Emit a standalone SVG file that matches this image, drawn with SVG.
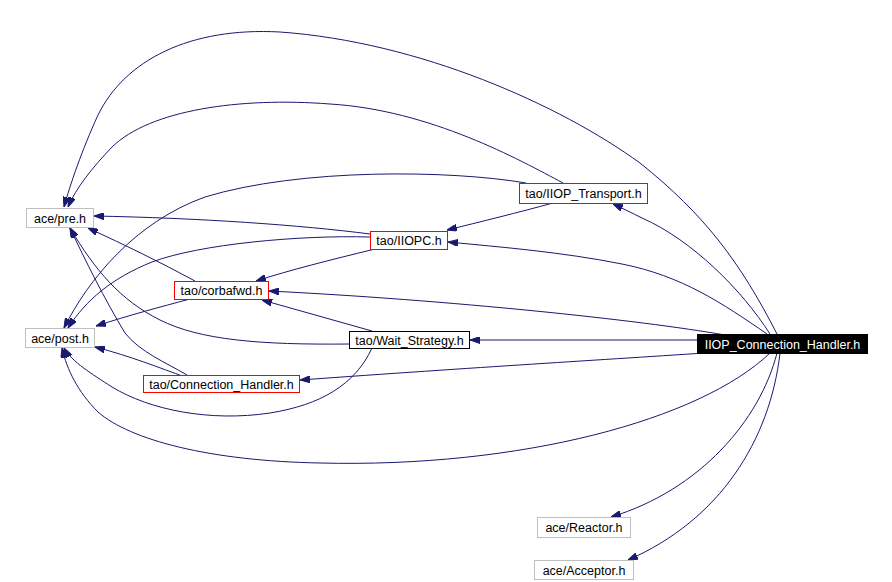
<svg xmlns="http://www.w3.org/2000/svg" width="892" height="582" viewBox="0 0 892 582">
<defs>
<style>
.e{fill:none;stroke:#191970;stroke-width:1;marker-end:url(#ah)}
.n rect{fill:#fff;stroke-width:1}
.g rect{stroke:#bfbfbf}
.r rect{stroke:#ff0000}
.b rect{stroke:#000}
.k rect{fill:#000;stroke:#000}
text{font-family:"Liberation Sans",Arial,sans-serif;font-size:12.5px;text-anchor:middle;fill:#000}
.k text{fill:#fff}
</style>
<marker id="ah" markerWidth="10" markerHeight="7" refX="10" refY="3.5" orient="auto" markerUnits="userSpaceOnUse">
<path d="M0,0 L10,3.5 L0,7 z" fill="#191970" stroke="#191970"/>
</marker>
</defs>
<rect x="0" y="0" width="892" height="582" fill="#fff"/>
<g id="connectors">
<path class="e" d="M777,334 C740,262 705,215 640,163 C560,105 420,42 280,32 C190,27 125,60 98,115 C82,150 70,185 64,207"/>
<path class="e" d="M563,183 C520,160 430,110 330,104 C240,97 150,110 112,147 C92,168 76,188 68,207"/>
<path class="e" d="M526,183 C450,170 300,168 205,197 C135,222 88,280 64,328"/>
<path class="e" d="M553,203 C520,212 480,222 447,230"/>
<path class="e" d="M770,334 C742,290 692,240 642,218 C632,213 622,208 613,204"/>
<path class="e" d="M767,334 C722,303 682,276 622,264 C562,252 500,247 448,242"/>
<path class="e" d="M725,335 C640,320 450,300 269,291"/>
<path class="e" d="M697,340 L470,340"/>
<path class="e" d="M720,352 C600,360 480,367 300,380"/>
<path class="e" d="M770,353 C700,420 520,468 320,463 C210,461 130,440 98,412 C78,392 67,370 62,348"/>
<path class="e" d="M777,353 C760,420 700,490 611,517"/>
<path class="e" d="M780,353 C770,440 720,520 628,560"/>
<path class="e" d="M370,234 C300,225 200,218 94,216"/>
<path class="e" d="M370,237 C300,235 200,244 152,262 C112,278 86,300 68,328"/>
<path class="e" d="M375,249 C330,260 290,270 256,281"/>
<path class="e" d="M195,281 C160,262 125,245 88,228"/>
<path class="e" d="M190,299 C160,307 130,315 96,326"/>
<path class="e" d="M349,344 C260,345 200,340 160,320 C120,300 95,270 70,228"/>
<path class="e" d="M372,331 L262,300"/>
<path class="e" d="M372,348 C355,385 320,405 270,413 C210,422 150,410 112,387 C92,374 72,362 64,348"/>
<path class="e" d="M187,375 C165,362 140,352 125,333 C105,300 85,260 70,228"/>
<path class="e" d="M185,377 C160,368 130,356 95,347"/>
</g>
<g id="node-pre" class="n g"><rect x="26.5" y="208.5" width="67" height="19"/><text x="60" y="222.5">ace/pre.h</text></g>
<g id="node-post" class="n g"><rect x="25.5" y="328.5" width="69" height="19"/><text x="60" y="342.5">ace/post.h</text></g>
<g id="node-iiopc" class="n r"><rect x="370.5" y="231.5" width="77" height="18"/><text x="409" y="245">tao/IIOPC.h</text></g>
<g id="node-corbafwd" class="n r"><rect x="174.5" y="281.5" width="94" height="18"/><text x="221.5" y="295">tao/corbafwd.h</text></g>
<g id="node-wait" class="n b"><rect x="349.5" y="331.5" width="120" height="17"/><text x="409.5" y="344.5">tao/Wait_Strategy.h</text></g>
<g id="node-connhandler" class="n r"><rect x="143.5" y="375.5" width="156" height="17"/><text x="221.5" y="388.5">tao/Connection_Handler.h</text></g>
<g id="node-transport" class="n r"><rect x="519.5" y="183.5" width="128" height="20"/><text x="583.5" y="198">tao/IIOP_Transport.h</text></g>
<g id="node-handler" class="n k"><rect x="697.5" y="334.5" width="170" height="19"/><text x="782.5" y="348.5">IIOP_Connection_Handler.h</text></g>
<g id="node-reactor" class="n g"><rect x="537.5" y="517.5" width="93" height="20"/><text x="584" y="532">ace/Reactor.h</text></g>
<g id="node-acceptor" class="n g"><rect x="534.5" y="560.5" width="99" height="19"/><text x="584" y="575">ace/Acceptor.h</text></g>
</svg>
